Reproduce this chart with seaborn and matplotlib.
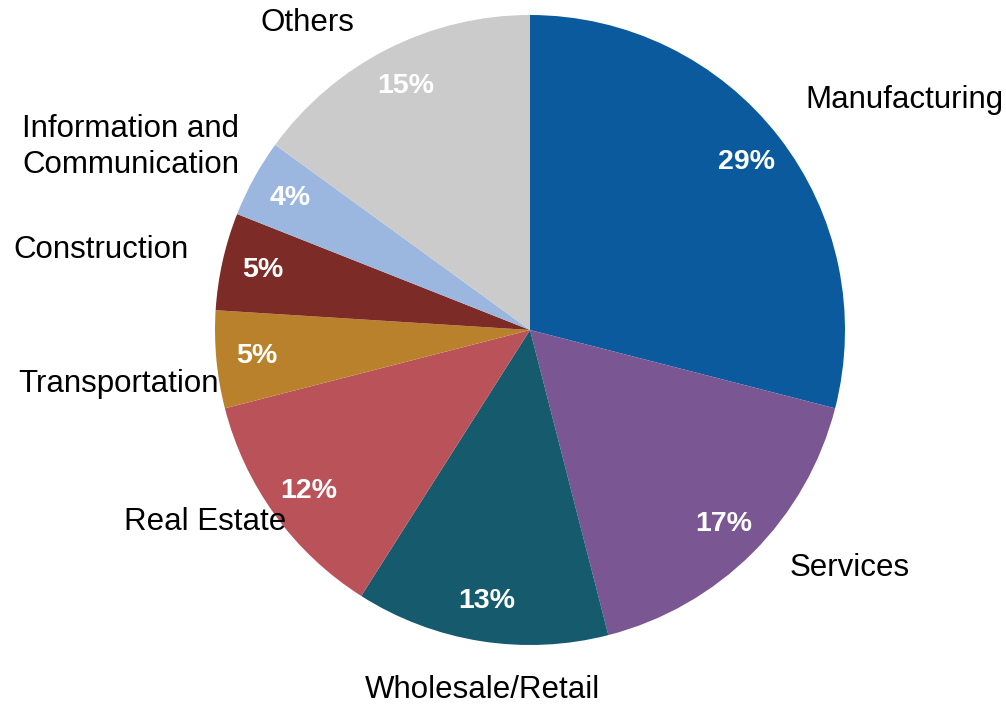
import matplotlib
matplotlib.use("Agg")
import matplotlib.pyplot as plt
import seaborn as sns

# --- data ---
sectors = ["Manufacturing", "Services", "Wholesale/Retail", "Real Estate",
           "Transportation", "Construction", "Information and\nCommunication", "Others"]
shares = [29, 17, 13, 12, 5, 5, 4, 15]
colors = ["#0B5A9E", "#7A5692", "#165A6E", "#BA525A",
          "#BA812C", "#7D2B27", "#9BB7DF", "#CBCBCB"]

# --- layout (pixel coordinates, y measured from top) ---
label_pos = [(805, 100, "left"), (790, 568, "left"), (482, 690, "center"),
             (205, 522, "center"), (119, 384, "center"), (101, 250, "center"),
             (131, 147, "center"), (307, 23, "center")]

sns.set_theme(style="white")
plt.rcParams['font.family'] = ['Liberation Sans', 'DejaVu Sans']

W, H = 1006, 704
fig = plt.figure(figsize=(W / 100, H / 100), dpi=100)
ax = fig.add_axes([0, 0, 1, 1])

wedges, texts, autotexts = ax.pie(
    shares, labels=sectors, colors=sns.color_palette(colors),
    startangle=90, counterclock=False,
    center=(530, H - 330), radius=315,
    autopct=lambda p: f"{p:.0f}%", pctdistance=0.87,
    wedgeprops=dict(linewidth=0),
    textprops=dict(fontsize=22.5, color="black"))

for t, (x, y, ha) in zip(texts, label_pos):
    t.set_position((x, H - y))
    t.set_ha(ha)
    t.set_va("center")
    t.set_multialignment("left")
    t.set_linespacing(1.3)

for a in autotexts:
    a.set_color("white")
    a.set_fontweight("bold")
    a.set_fontsize(20.5)

ax.set_xlim(0, W)
ax.set_ylim(0, H)
ax.set_aspect("equal")
ax.axis("off")

fig.savefig("out.png", dpi=100)
